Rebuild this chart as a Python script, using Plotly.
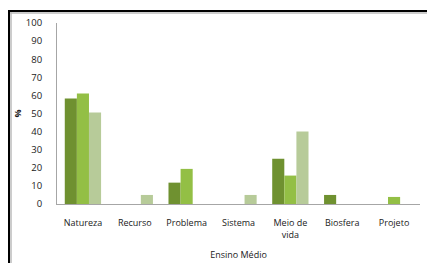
import plotly.graph_objects as go

categories = ["Natureza", "Recurso", "Problema", "Sistema", "Meio de<br>vida", "Biosfera", "Projeto"]
series_a = [58.3, 0, 11.8, 0, 25.0, 5.0, 0]
series_b = [61.0, 0, 19.4, 0, 15.7, 0, 3.9]
series_c = [50.5, 5.0, 0, 5.0, 40.0, 0, 0]
y_ticks = [0, 10, 20, 30, 40, 50, 60, 70, 80, 90, 100]

colors = ["#6f9130", "#93bf45", "#b7cb99"]

fig = go.Figure()
for vals, col in zip([series_a, series_b, series_c], colors):
    fig.add_trace(go.Bar(x=categories, y=vals, marker=dict(color=col, line=dict(width=0)),
                         showlegend=False))

W, H = 427, 263
L, R, T, B = 57, 7, 23, 59
pw, ph = W - L - R, H - T - B

def px_x(p):
    return (p - L) / pw

def px_y(p):
    return (H - B - p) / ph

fig.update_layout(
    width=W, height=H,
    margin=dict(l=L, r=R, t=T, b=B, autoexpand=False),
    paper_bgcolor="white", plot_bgcolor="white",
    barmode="group", bargap=0.3, bargroupgap=0,
    font=dict(family="Open Sans", size=9, color="#1a1a1a"),
    xaxis=dict(showline=True, linecolor="#a6a6a6", linewidth=1, showgrid=False,
               automargin=False,
               ticks="", ticklabelstandoff=10, tickfont=dict(size=9),
               title=dict(text="Ensino Médio", font=dict(size=9), standoff=12)),
    yaxis=dict(range=[0, 100], tickvals=y_ticks, showline=True, linecolor="#a6a6a6",
               linewidth=1, showgrid=False, zeroline=False, ticks="", automargin=False,
               ticklabelstandoff=12, tickfont=dict(size=9.5),
               title=dict(text="<b>%</b>", font=dict(size=9), standoff=2)),
    shapes=[
        dict(type="line", xref="paper", yref="paper", x0=px_x(9), x1=px_x(427),
             y0=px_y(11), y1=px_y(11), line=dict(color="black", width=2)),
        dict(type="line", xref="paper", yref="paper", x0=px_x(9), x1=px_x(427),
             y0=px_y(13), y1=px_y(13), line=dict(color="#bbbbbb", width=1.5)),
        dict(type="line", xref="paper", yref="paper", x0=px_x(9), x1=px_x(9),
             y0=px_y(10), y1=px_y(263), line=dict(color="black", width=2)),
        dict(type="line", xref="paper", yref="paper", x0=px_x(11), x1=px_x(11),
             y0=px_y(12), y1=px_y(263), line=dict(color="#bbbbbb", width=1.5)),
    ],
)

fig.write_html("out.html", config={"displayModeBar": False},
               post_script="document.body.style.margin='0';")
